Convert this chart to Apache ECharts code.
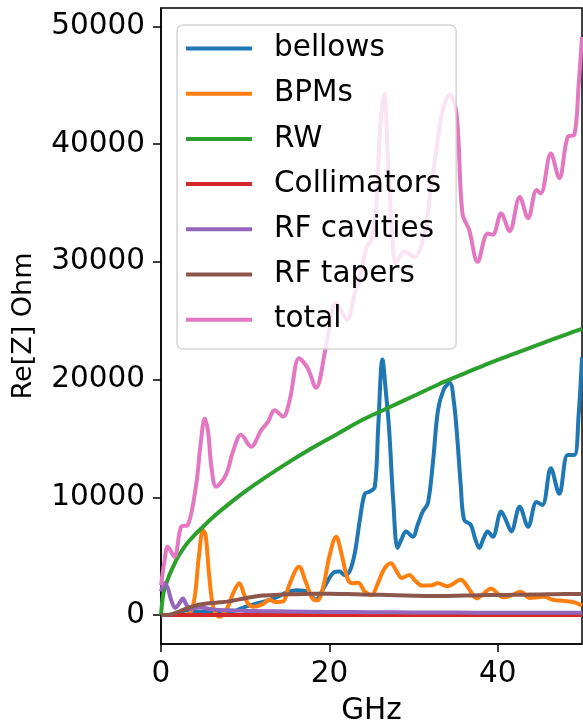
<!DOCTYPE html>
<html>
<head>
<meta charset="utf-8">
<script src="https://cdn.jsdelivr.net/npm/echarts@6/dist/echarts.min.js"></script>
<style>
html,body{margin:0;padding:0;background:#fff;}
#chart{width:583px;height:727px;}
</style>
</head>
<body>
<div id="chart"></div>
<script>
// ---- data (GHz, Ohm) ----
const seriesNames = ['bellows', 'BPMs', 'RW', 'Collimators', 'RF cavities', 'RF tapers', 'total'];
const yTickValues = [0, 10000, 20000, 30000, 40000, 50000];
const xTickValues = [0, 20, 40];

const bellows = [[0,0],[1,0],[2,100],[3,400],[4,300],[5,250],[6,250],[7,250],[8,300],[9,400],[10,700],[11,900],[12,1100],[13,1300],[14,1600],[15,1950],[16.2,2100],[17.4,1950],[18.4,1300],[19.4,2400],[20.6,3650],[21.2,3700],[21.8,3400],[22.4,3700],[23,5200],[23.6,8000],[24.2,10300],[24.8,10480],[25.4,10900],[25.8,16000],[26.3,21700],[26.7,19000],[27.1,15700],[27.6,9500],[28.1,5700],[28.6,6500],[29.1,7100],[29.9,6650],[30.5,7700],[31.1,8800],[31.7,9500],[32.3,13000],[32.9,17400],[33.6,19200],[34.3,19700],[34.8,18000],[35.2,14900],[35.6,11000],[36,8100],[36.8,7650],[37.3,6500],[37.8,5700],[38.3,6500],[38.8,7100],[39.4,6650],[40.4,8800],[41,8000],[41.6,7100],[42.6,9200],[43.6,7500],[44.6,9600],[45.3,9350],[46.3,12460],[47.3,10300],[48.3,13600],[49.1,13600],[49.6,17000],[50,21900]];

const bpms = [[0,0],[1,0],[2,0],[3,50],[3.5,200],[4,1500],[4.5,5000],[5,7200],[5.3,6800],[5.7,3500],[6.1,1000],[6.5,100],[7,-150],[7.5,200],[8,800],[8.6,1900],[9.3,2700],[9.8,1900],[10.3,1000],[11,700],[12,900],[12.9,1300],[13.6,1100],[14.5,1150],[15.2,2500],[16.4,4100],[17.2,2800],[18,1400],[18.6,1250],[19.3,2500],[20,5000],[20.8,6650],[21.5,5000],[22.2,3000],[22.8,2700],[23.4,2750],[24.2,2000],[25,1700],[25.7,2600],[26.5,3900],[27.3,4400],[28,3700],[28.6,3150],[29.5,3400],[30.2,2900],[31,2500],[32,2500],[32.9,2700],[34,2450],[35.6,3000],[36.5,2300],[37.5,1420],[38.3,1800],[39.2,2250],[40,1800],[40.7,1500],[41.7,1700],[42.7,1980],[43.8,1450],[44.7,1500],[45.5,1560],[46.5,1300],[47.9,1200],[49,1100],[50,800]];

const rw = [[0,0],[0.25,1700],[0.5,2400],[1,3400],[1.5,4200],[2,4900],[3,6000],[4,6800],[5,7500],[6,8200],[8,9400],[10,10500],[12,11500],[15,12900],[18,14200],[21,15400],[24,16600],[27,17600],[30,18600],[33,19600],[36,20500],[39,21400],[42,22200],[45,23000],[48,23800],[50,24300]];

const collimators = [[0,0],[10,0],[20,0],[30,0],[40,0],[50,0]];

const rfCavities = [[0,2000],[0.4,2700],[0.8,2300],[1.2,1300],[1.7,600],[2.1,900],[2.6,1400],[3.0,900],[3.4,500],[4,600],[4.6,650],[5.5,550],[6.5,450],[8,400],[10,350],[12,330],[15,300],[20,260],[25,240],[30,220],[35,210],[40,200],[45,200],[50,200]];

const rfTapers = [[0,0],[1,20],[2,250],[3,550],[4,780],[5,930],[6,1020],[7,1080],[8,1160],[9,1290],[10,1430],[11,1560],[12,1650],[14,1730],[16,1770],[18,1800],[20,1810],[22,1780],[24,1740],[26,1720],[28,1690],[30,1640],[32,1610],[34,1620],[36,1650],[38,1680],[40,1700],[42,1720],[44,1740],[46,1760],[48,1780],[50,1780]];

const total = [[0,2500],[0.4,4500],[0.8,5800],[1.6,4950],[2.4,7500],[3.2,7650],[4.2,11200],[4.7,14500],[5.2,16700],[5.6,15500],[6,12500],[6.55,10900],[7.7,11900],[8.6,14000],[9.5,15300],[10.7,14300],[11.9,15700],[12.7,16400],[13.5,17400],[14.5,16850],[15.3,18300],[16.4,21800],[17.4,21000],[18.4,19300],[19.6,22800],[20.8,26500],[22.1,25060],[23,27300],[23.6,28500],[24.4,31200],[25,31900],[25.5,34000],[26,41000],[26.5,44300],[27,38000],[27.5,32000],[27.9,29900],[28.9,30900],[30.1,30400],[31.3,32400],[32,36000],[32.7,39500],[33.5,43000],[34.3,44200],[35.1,42600],[35.8,34100],[36.6,32700],[37.6,30000],[38.8,32400],[39.4,32300],[40.4,34100],[41.4,32600],[42.6,35500],[43.6,33700],[44.6,36100],[45.1,35800],[46.3,39200],[47.3,37100],[48.3,40600],[49.1,40800],[49.6,45000],[50,49100]];

const seriesData = [bellows, bpms, rw, collimators, rfCavities, rfTapers, total];
const colors = ['#1f77b4', '#ff7f0e', '#2ca02c', '#d62728', '#9467bd', '#8c564b', '#e377c2'];

const FONT = 'DejaVu Sans';
const FS = 29.5;

const chart = echarts.init(document.getElementById('chart'), null, {renderer: 'canvas'});
chart.setOption({
  animation: false,
  backgroundColor: '#ffffff',
  color: colors,
  grid: {
    left: 161, right: 1, top: 8, bottom: 83,
    containLabel: false, outerBoundsMode: 'none',
    show: true, borderColor: '#000', borderWidth: 1.5, backgroundColor: 'transparent'
  },
  xAxis: {
    type: 'value', min: 0, max: 50, interval: 20,
    name: 'GHz', nameLocation: 'middle', nameGap: 52, nameMoveOverlap: false,
    nameTextStyle: {fontFamily: FONT, fontSize: FS, color: '#000'},
    axisLine: {show: true, onZero: false, lineStyle: {color: '#000', width: 1.5}},
    axisTick: {show: true, inside: false, length: 8, customValues: xTickValues, lineStyle: {color: '#000', width: 1.5}},
    axisLabel: {show: true, margin: 15, customValues: xTickValues, formatter: v => String(v), fontFamily: FONT, fontSize: FS, color: '#000'},
    splitLine: {show: false}
  },
  yAxis: {
    type: 'value', min: -2460, max: 51550,
    name: 'Re[Z] Ohm', nameLocation: 'middle', nameGap: 124, nameRotate: 90, nameMoveOverlap: false,
    nameTextStyle: {fontFamily: FONT, fontSize: 27, color: '#000'},
    axisLine: {show: true, onZero: false, lineStyle: {color: '#000', width: 1.5}},
    axisTick: {show: true, inside: false, length: 8, customValues: yTickValues, lineStyle: {color: '#000', width: 1.5}},
    axisLabel: {show: true, margin: 16, customValues: yTickValues, formatter: v => String(v), fontFamily: FONT, fontSize: FS, color: '#000'},
    splitLine: {show: false}
  },
  legend: {
    orient: 'vertical', left: 177, top: 25,
    padding: [8.5, 15, 14.3, 9],
    itemWidth: 66, itemHeight: 4, itemGap: 15.2,
    icon: 'rect',
    backgroundColor: 'rgba(255,255,255,0.8)',
    borderColor: 'rgba(204,204,204,0.8)', borderWidth: 1.5, borderRadius: 6,
    data: seriesNames,
    formatter: '{a|{name}}',
    textStyle: {
      fontFamily: FONT, fontSize: FS, color: '#000',
      rich: {a: {fontFamily: FONT, fontSize: FS, color: '#000', padding: [0, 0, 0, 17]}}
    },
    z: 10
  },
  series: seriesNames.map((n, i) => ({
    name: n, type: 'line', data: seriesData[i],
    showSymbol: false, symbol: 'none', smooth: 0.35,
    lineStyle: {width: 4, color: colors[i]},
    itemStyle: {color: colors[i]},
    clip: true, z: 2
  }))
});
</script>
</body>
</html>
